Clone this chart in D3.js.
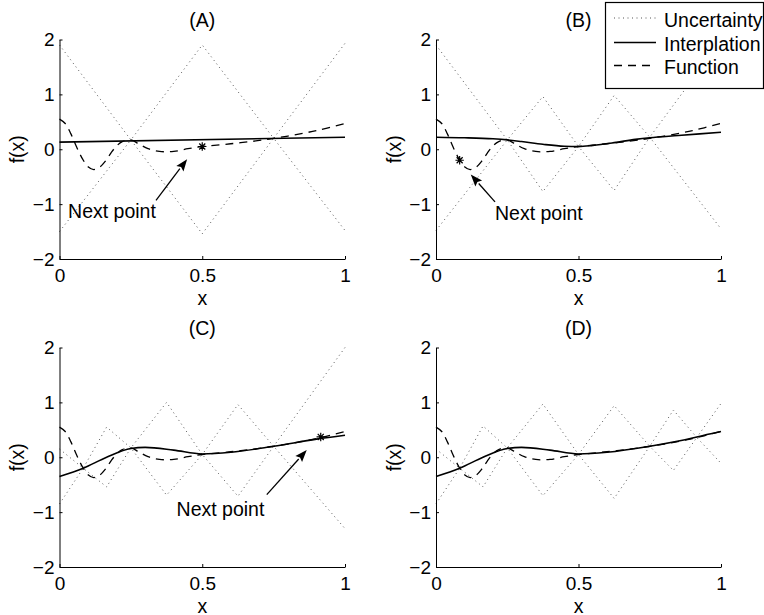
<!DOCTYPE html>
<html>
<head>
<meta charset="utf-8">
<script src="https://cdn.jsdelivr.net/npm/d3@7"></script>
<style>
  html, body { margin: 0; padding: 0; background: #fff; }
  svg { display: block; font-family: "Liberation Sans", Arial, Helvetica, sans-serif; }
</style>
</head>
<body>
<svg id="chart" width="764" height="615"></svg>
<script>
// ---- data ----
const xTicks = [0, 0.5, 1];
const yTicks = [-2, -1, 0, 1, 2];

// underlying function (dashed)
const funcX = [0, 0.02, 0.04, 0.06, 0.08, 0.10, 0.12, 0.14, 0.16, 0.18, 0.20, 0.22, 0.25, 0.28, 0.31, 0.35, 0.40, 0.45, 0.50, 0.60, 0.70, 0.75, 0.80, 0.90, 1.00];
const funcY = [0.55, 0.47, 0.28, 0.04, -0.17, -0.32, -0.37, -0.33, -0.22, -0.07, 0.06, 0.14, 0.17, 0.09, 0.01, -0.04, -0.04, 0.01, 0.05, 0.10, 0.16, 0.20, 0.24, 0.34, 0.47];

// interpolants (solid)
const interpAX = [0, 1];
const interpAY = [0.13, 0.22];
const interpBX = [0, 0.1, 0.2, 0.25, 0.3, 0.375, 0.45, 0.5, 0.55, 0.625, 0.7, 0.75, 0.85, 1];
const interpBY = [0.22, 0.21, 0.19, 0.17, 0.14, 0.09, 0.055, 0.05, 0.07, 0.12, 0.18, 0.21, 0.25, 0.31];
const interpCX = [0, 0.083, 0.165, 0.25, 0.3, 0.4, 0.5, 0.6, 0.75, 0.9, 1];
const interpCY = [-0.35, -0.2, 0.0, 0.16, 0.18, 0.13, 0.06, 0.09, 0.2, 0.33, 0.4];
const interpDX = [0, 0.083, 0.165, 0.25, 0.3, 0.4, 0.5, 0.6, 0.75, 0.9, 0.915, 1];
const interpDY = [-0.35, -0.2, 0.0, 0.16, 0.18, 0.13, 0.06, 0.09, 0.2, 0.35, 0.37, 0.47];

// uncertainty envelopes (dotted)
const uncAX = [0, 0.25, 0.5, 0.75, 1];
const uncAUp = [1.9, 0.17, 1.9, 0.2, 1.93];
const uncALo = [-1.5, 0.17, -1.54, 0.2, -1.48];
const uncBX = [0, 0.25, 0.375, 0.5, 0.625, 0.75, 1];
const uncBUp = [1.9, 0.17, 0.96, 0.05, 0.98, 0.22, 1.98];
const uncBLo = [-1.48, 0.17, -0.77, 0.05, -0.75, 0.22, -1.45];
const uncCX = [0, 0.083, 0.165, 0.25, 0.375, 0.5, 0.625, 0.75, 1];
const uncCUp = [0.15, -0.2, 0.55, 0.17, 1.0, 0.05, 0.96, 0.2, 2.0];
const uncCLo = [-0.85, -0.2, -0.54, 0.17, -0.69, 0.05, -0.71, 0.2, -1.3];
const uncDX = [0, 0.083, 0.165, 0.25, 0.375, 0.5, 0.625, 0.75, 0.833, 0.915, 1];
const uncDUp = [0.15, -0.2, 0.57, 0.17, 0.97, 0.05, 0.94, 0.2, 0.86, 0.36, 0.98];
const uncDLo = [-0.85, -0.2, -0.54, 0.17, -0.7, 0.05, -0.75, 0.2, -0.24, 0.36, -0.11];

// next sample point and its arrow (tail -> head), label anchor
const nextA = { pt: [0.5, 0.05], tail: [0.338, -0.93], head: [0.447, -0.18], label: [0.03, -1.12] };
const nextB = { pt: [0.083, -0.2], tail: [0.207, -0.96], head: [0.122, -0.46], label: [0.207, -1.16] };
const nextC = { pt: [0.915, 0.37], tail: [0.726, -0.68], head: [0.866, 0.13], label: [0.41, -0.94] };

const legendLabels = ["Uncertainty", "Interplation", "Function"];

// ---- layout ----
const panels = [
  { title: "(A)", left: 59.5, right: 345, top: 39.5, bottom: 259,
    ix: interpAX, iy: interpAY, ux: uncAX, uu: uncAUp, ul: uncALo, next: nextA },
  { title: "(B)", left: 436, right: 721, top: 39.5, bottom: 259,
    ix: interpBX, iy: interpBY, ux: uncBX, uu: uncBUp, ul: uncBLo, next: nextB },
  { title: "(C)", left: 59.5, right: 345, top: 347.5, bottom: 567,
    ix: interpCX, iy: interpCY, ux: uncCX, uu: uncCUp, ul: uncCLo, next: nextC },
  { title: "(D)", left: 436, right: 721, top: 347.5, bottom: 567,
    ix: interpDX, iy: interpDY, ux: uncDX, uu: uncDUp, ul: uncDLo, next: null }
];

const svg = d3.select("#chart");
const FS = 19.5;
const TICK_FS = 19;
const dotStyle = { stroke: "#555", width: 1, dash: "1,3.5" };
const dashStyle = "8,6";

function starPath(cx, cy, r) {
  const d = r * 0.72;
  return `M${cx - r},${cy}L${cx + r},${cy}M${cx},${cy - r}L${cx},${cy + r}` +
         `M${cx - d},${cy - d}L${cx + d},${cy + d}M${cx - d},${cy + d}L${cx + d},${cy - d}`;
}

panels.forEach(p => {
  const x = d3.scaleLinear().domain([0, 1]).range([p.left, p.right]);
  const y = d3.scaleLinear().domain([-2, 2]).range([p.bottom, p.top]);
  const g = svg.append("g");

  const lineLin = d3.line().x(d => x(d[0])).y(d => y(d[1]));
  const lineSmooth = d3.line().x(d => x(d[0])).y(d => y(d[1])).curve(d3.curveMonotoneX);
  const zip = (xs, ys) => xs.map((v, i) => [v, ys[i]]);

  // uncertainty envelope
  [p.uu, p.ul].forEach(ys => {
    g.append("path").attr("d", lineLin(zip(p.ux, ys)))
      .attr("fill", "none").attr("stroke", dotStyle.stroke)
      .attr("stroke-width", dotStyle.width).attr("stroke-dasharray", dotStyle.dash);
  });

  // function
  g.append("path").attr("d", d3.line().x(d => x(d[0])).y(d => y(d[1])).curve(d3.curveCatmullRom)(zip(funcX, funcY)))
    .attr("fill", "none").attr("stroke", "#000").attr("stroke-width", 1.3)
    .attr("stroke-dasharray", dashStyle);

  // interpolant
  g.append("path").attr("d", lineSmooth(zip(p.ix, p.iy)))
    .attr("fill", "none").attr("stroke", "#000").attr("stroke-width", 1.6);

  // axes
  const ax = g.append("g").attr("transform", `translate(0,${p.bottom})`)
    .call(d3.axisBottom(x).tickValues(xTicks).tickFormat(d3.format("")).tickSize(-3).tickSizeOuter(0).tickPadding(9.5));
  const ay = g.append("g").attr("transform", `translate(${p.left},0)`)
    .call(d3.axisLeft(y).tickValues(yTicks).tickFormat(d3.format("")).tickSize(-3).tickSizeOuter(0).tickPadding(5));
  [ax, ay].forEach(a => {
    a.attr("font-family", null);
    a.selectAll("text").attr("font-size", TICK_FS).attr("fill", "#000");
    a.select(".domain").attr("stroke", "#000").attr("stroke-width", 1);
    a.selectAll(".tick line").attr("stroke", "#000");
  });

  // labels
  g.append("text").attr("x", (p.left + p.right) / 2).attr("y", p.top - 19.5)
    .attr("text-anchor", "middle").attr("dominant-baseline", "central")
    .attr("font-size", FS).text(p.title);
  g.append("text").attr("x", (p.left + p.right) / 2).attr("y", p.bottom + 38.5)
    .attr("text-anchor", "middle").attr("dominant-baseline", "central")
    .attr("font-size", FS).text("x");
  g.append("text").attr("transform", `translate(${p.left - 42.5},${(p.top + p.bottom) / 2}) rotate(-90)`)
    .attr("text-anchor", "middle").attr("dominant-baseline", "central")
    .attr("font-size", FS).text("f(x)");

  // next point annotation
  if (p.next) {
    const n = p.next;
    g.append("path").attr("d", starPath(x(n.pt[0]), y(n.pt[1]), 4.2))
      .attr("stroke", "#000").attr("stroke-width", 1.2).attr("fill", "none");
    const tx = x(n.tail[0]), ty = y(n.tail[1]), hx = x(n.head[0]), hy = y(n.head[1]);
    const ang = Math.atan2(hy - ty, hx - tx);
    const L = 12, Wd = 4.5;
    const bx = hx - L * Math.cos(ang), by = hy - L * Math.sin(ang);
    g.append("line").attr("x1", tx).attr("y1", ty).attr("x2", bx).attr("y2", by)
      .attr("stroke", "#000").attr("stroke-width", 1.3);
    const px = -Math.sin(ang), py = Math.cos(ang);
    g.append("path")
      .attr("d", `M${hx},${hy}L${bx + px * Wd},${by + py * Wd}L${bx + 2 * Math.cos(ang)},${by + 2 * Math.sin(ang)}L${bx - px * Wd},${by - py * Wd}Z`)
      .attr("fill", "#000");
    g.append("text").attr("x", x(n.label[0])).attr("y", y(n.label[1]))
      .attr("dominant-baseline", "central").attr("font-size", FS).text("Next point");
  }
});

// legend
const lg = svg.append("g");
lg.append("rect").attr("x", 605.5).attr("y", 2.5).attr("width", 158).attr("height", 86)
  .attr("fill", "#fff").attr("stroke", "#000").attr("stroke-width", 1.2);
const rowY = [18, 42.5, 65.5];
const rowStyles = [
  { stroke: dotStyle.stroke, width: 1, dash: dotStyle.dash },
  { stroke: "#000", width: 1.6, dash: null },
  { stroke: "#000", width: 1.3, dash: dashStyle }
];
legendLabels.forEach((lab, i) => {
  const s = rowStyles[i];
  lg.append("line").attr("x1", 614).attr("x2", 656).attr("y1", rowY[i]).attr("y2", rowY[i])
    .attr("stroke", s.stroke).attr("stroke-width", s.width).attr("stroke-dasharray", s.dash);
  lg.append("text").attr("x", 664).attr("y", rowY[i] + 1.5).attr("dominant-baseline", "central")
    .attr("font-size", FS).text(lab);
});
</script>
</body>
</html>
